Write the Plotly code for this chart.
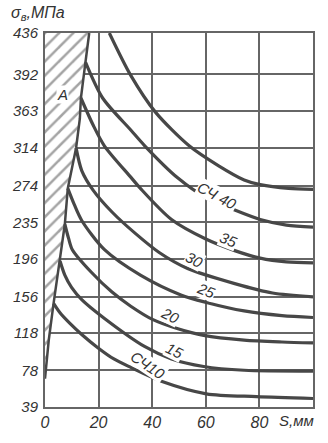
import plotly.graph_objects as go

# ---- data ----
y_ticks = [39, 78, 118, 156, 196, 235, 274, 314, 353, 392, 436]
y_ticktext = ["39", "78", "118", "156", "196", "235", "274", "314", "363", "392", "436"]
x_ticks = [0, 20, 40, 60, 80]
x_ticktext = ["0", "20", "40", "60", "80"]

# boundary of hatched region A
bx = [0, 1.4, 3.2, 5.6, 7.4, 8.5, 11.6, 13.0, 13.4, 15.1, 16.5]
by = [69, 110, 149, 194, 233, 271, 314, 345, 367, 405, 436]

# curves (S, mm ; sigma_B, MPa)
x1 = [24, 32, 41.2, 53.9, 64.8, 74.3, 80.3, 90.9, 100]
y1 = [436, 391, 352, 316, 295, 280, 275, 271, 270]
x2 = [15.1, 21.5, 32, 37.3, 49.6, 60.2, 70.8, 80.3, 90.1, 100]
y2 = [405, 367, 333, 316, 282, 261, 248, 238, 232, 230]
x3 = [13.4, 18, 22.2, 32, 35.6, 47.2, 60.2, 70.8, 80.3, 90.1, 100]
y3 = [367, 338, 316, 283, 271, 238, 217, 205, 197, 193, 192]
x4 = [11.6, 13.7, 18, 25, 33.8, 42.6, 53.2, 70.8, 84.9, 100]
y4 = [314, 290, 269, 246, 223, 203, 186, 170, 160, 156]
x5 = [8.5, 10.9, 13.7, 22.2, 35.6, 50.7, 60.2, 74.3, 88.4, 100]
y5 = [271, 254, 237, 206, 179, 158, 150, 141, 136, 134]
x6 = [7.4, 8.8, 10.2, 17.3, 25, 32, 40.1, 49.6, 59.2, 74.3, 88.4, 100]
y6 = [233, 218, 206, 182, 161, 146, 132, 122, 115, 110, 108, 107]
x7 = [5.6, 7.4, 9.9, 13.7, 22.2, 37.3, 47.2, 59.2, 74.3, 100]
y7 = [194, 179, 166, 153, 133, 103, 90, 82, 78, 77]
x8 = [3.2, 5.6, 9.2, 13.7, 19.7, 25.7, 32, 43.7, 60.2, 78.9, 100]
y8 = [149, 139, 128, 116, 102, 90, 81, 66, 53, 50, 48]

curve_labels = ["СЧ 40", "35", "30", "25", "20", "15", "СЧ10"]
label_x = [64.1, 68.3, 55.6, 60.2, 46.8, 48.2, 38.6]
label_y = [263, 217, 196, 163, 136, 99, 83]
label_angle = [28, 22, 28, 22, 26, 26, 34]

LINE = "#474747"
GRID = "#666666"
FONT = "Liberation Sans Narrow, Liberation Sans, Arial, sans-serif"

fig = go.Figure()

# hatched region A
fig.add_trace(go.Scatter(
    x=bx + [0, 0], y=by + [436, by[0]],
    mode="lines", fill="toself", line=dict(width=0),
    fillcolor="rgba(0,0,0,0)",
    fillpattern=dict(shape="/", fgcolor="#4a4a4a", bgcolor="white", size=10, solidity=0.25),
    hoverinfo="skip"))
fig.add_trace(go.Scatter(x=bx, y=by, mode="lines",
                         line=dict(color=LINE, width=2.5), hoverinfo="skip"))

for xs, ys in [(x1, y1), (x2, y2), (x3, y3), (x4, y4), (x5, y5), (x6, y6), (x7, y7), (x8, y8)]:
    fig.add_trace(go.Scatter(x=xs, y=ys, mode="lines",
                             line=dict(color=LINE, width=3.2, shape="spline", smoothing=0.8),
                             hoverinfo="skip"))

for t, lx, ly, ang in zip(curve_labels, label_x, label_y, label_angle):
    fig.add_annotation(x=lx, y=ly, xref="x", yref="y", text=t, showarrow=False,
                       textangle=ang, bgcolor="white", borderpad=0,
                       font=dict(family=FONT, size=15, color="#333333", style="italic"))

fig.add_annotation(x=6.7, y=371, xref="x", yref="y", text="A", showarrow=False,
                   bgcolor="white", borderpad=0,
                   font=dict(family=FONT, size=15, color="#333333", style="italic"))

fig.add_annotation(x=-0.135, y=1.052, xref="paper", yref="paper", xanchor="left", yanchor="middle",
                   text="σ<sub>в</sub>,МПа", showarrow=False,
                   font=dict(family=FONT, size=16, color="#333333", style="italic"))
fig.add_annotation(x=0.937, y=-0.037, xref="paper", yref="paper", xanchor="center", yanchor="middle",
                   text="S,мм", showarrow=False,
                   font=dict(family=FONT, size=15, color="#333333", style="italic"))

fig.update_layout(
    width=328, height=443,
    margin=dict(l=29, r=15, t=33, b=24),
    paper_bgcolor="white", plot_bgcolor="white",
    showlegend=False,
    xaxis=dict(range=[0, 100], tickvals=x_ticks, ticktext=x_ticktext,
               showgrid=True, gridcolor=GRID, gridwidth=1.6,
               showline=True, linecolor=GRID, linewidth=2, mirror=True,
               zeroline=False, ticks="", fixedrange=True,
               tickfont=dict(family=FONT, size=16, color="#333333", style="italic")),
    yaxis=dict(range=[39, 436], tickvals=y_ticks, ticktext=y_ticktext,
               showgrid=True, gridcolor=GRID, gridwidth=1.6,
               showline=True, linecolor=GRID, linewidth=2, mirror=True,
               zeroline=False, ticks="", fixedrange=True, ticklabelstandoff=2,
               tickfont=dict(family=FONT, size=15, color="#333333", style="italic")),
)

fig.write_html("out.html", config={"displayModeBar": False})
